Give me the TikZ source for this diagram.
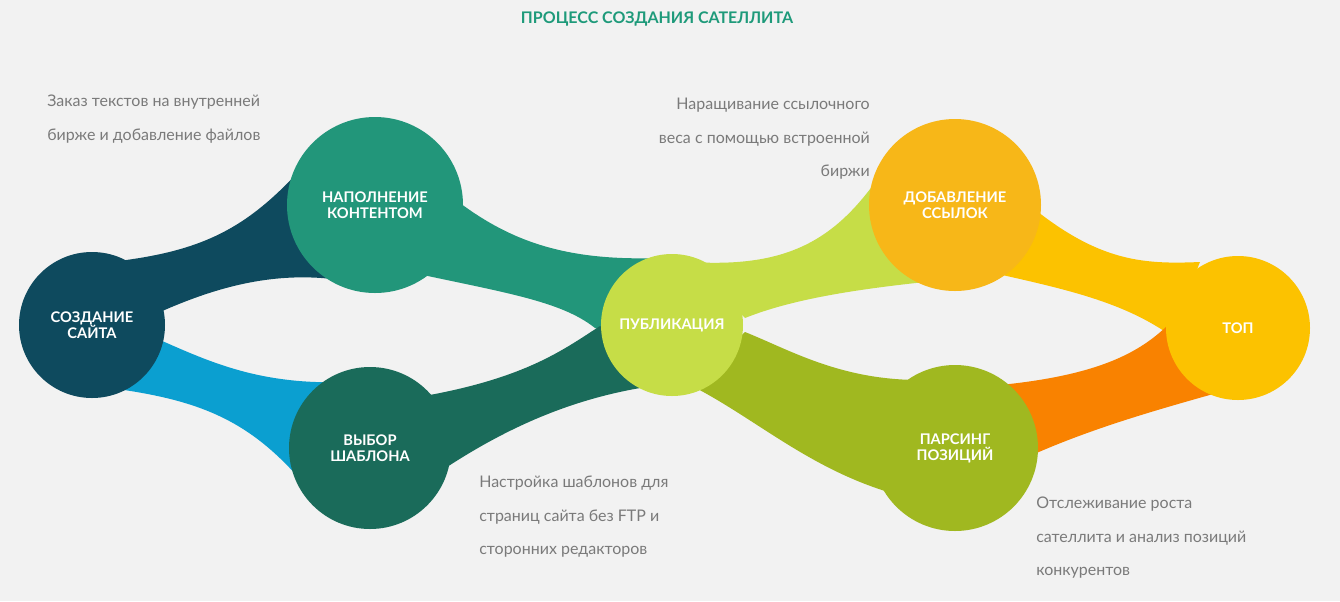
\documentclass[tikz,border=0pt]{standalone}
\usepackage{fontspec}
\setmainfont{Lato}
\definecolor{bg}{HTML}{F2F2F2}
\definecolor{navy}{HTML}{0E4A5E}
\definecolor{lblue}{HTML}{0B9FD0}
\definecolor{teal}{HTML}{22967A}
\definecolor{dgreen}{HTML}{1A6B5A}
\definecolor{lime}{HTML}{C6DD47}
\definecolor{olive}{HTML}{A0B820}
\definecolor{yell}{HTML}{FCC200}
\definecolor{yell2}{HTML}{F7B718}
\definecolor{orng}{HTML}{F98200}
\definecolor{ttl}{HTML}{1E9A7A}
\definecolor{desc}{HTML}{7A7A7A}
\begin{document}
\begin{tikzpicture}[x=0.75pt,y=-0.75pt,
  circ/.style={circle,inner sep=0pt,text=white,font=\bfseries\fontsize{11}{12}\selectfont,align=center,minimum size=0.75*#1},
  dsc/.style={text=desc,font=\fontsize{12}{25}\selectfont,inner sep=0pt}]
\fill[bg] (0,0) rectangle (1340,601);
\useasboundingbox (0,0) rectangle (1340,601);
% bands
\fill[navy] (110,262) .. controls (200,252) and (245,230) .. (300,170) -- (340,280) .. controls (270,270) and (210,290) .. (160,312) -- cycle;
\fill[lblue] (160,340) .. controls (210,362) and (260,385) .. (345,382) -- (305,485) .. controls (250,420) and (200,400) .. (110,388) -- cycle;
\fill[teal] (400,150) .. controls (480,230) and (540,262) .. (660,258) -- (640,340) -- (595,328) .. controls (560,300) and (500,292) .. (400,270) -- cycle;
\fill[dgreen] (400,400) .. controls (520,382) and (560,352) .. (600,326) -- (660,385) .. controls (560,398) and (480,440) .. (400,500) -- cycle;
\fill[lime] (690,262) .. controls (790,268) and (840,240) .. (890,160) -- (925,282) .. controls (850,290) and (790,300) .. (745,318) -- cycle;
\fill[olive] (745,332) .. controls (790,350) and (840,380) .. (920,380) -- (920,500) .. controls (820,480) and (760,420) .. (690,385) -- cycle;
\fill[yell] (980,160) .. controls (1080,260) and (1130,265) .. (1200,262) -- (1170,335) .. controls (1120,300) and (1060,288) .. (980,270) -- cycle;
\fill[orng] (1000,385) .. controls (1100,375) and (1140,352) .. (1168,325) -- (1295,370) .. controls (1200,400) and (1100,420) .. (1000,470) -- cycle;
% circles
\node[circ=146pt,fill=navy] (s) at (92,325) {СОЗДАНИЕ\\САЙТА};
\node[circ=176pt,fill=teal] (n) at (375,205) {НАПОЛНЕНИЕ\\КОНТЕНТОМ};
\node[circ=162pt,fill=dgreen] (v) at (370,448) {ВЫБОР\\ШАБЛОНА};
\node[circ=142pt,fill=lime] (p) at (672,325) {ПУБЛИКАЦИЯ};
\node[circ=172pt,fill=yell2] (d) at (955,205) {ДОБАВЛЕНИЕ\\ССЫЛОК};
\node[circ=166pt,fill=olive] (r) at (955,448) {ПАРСИНГ\\ПОЗИЦИЙ};
\node[circ=144pt,fill=yell] (t) at (1238,328) {ТОП};
% texts
\node[text=ttl,font=\bfseries\fontsize{12}{14}\selectfont] (title) at (657,19) {ПРОЦЕСС СОЗДАНИЯ САТЕЛЛИТА};
\node[dsc,anchor=north west,align=left] (d1) at (47,95) {Заказ текстов на внутренней\\биржe и добавление файлов};
\node[dsc,anchor=north east,align=right] (d2) at (870,98) {Наращивание ссылочного\\веса с помощью встроенной\\биржи};
\node[dsc,anchor=north west,align=left] (d3) at (479,476) {Настройка шаблонов для\\страниц сайта без FTP и\\сторонних редакторов};
\node[dsc,anchor=north west,align=left] (d4) at (1036,497) {Отслеживание роста\\сателлита и анализ позиций\\конкурентов};
\end{tikzpicture}
\end{document}
